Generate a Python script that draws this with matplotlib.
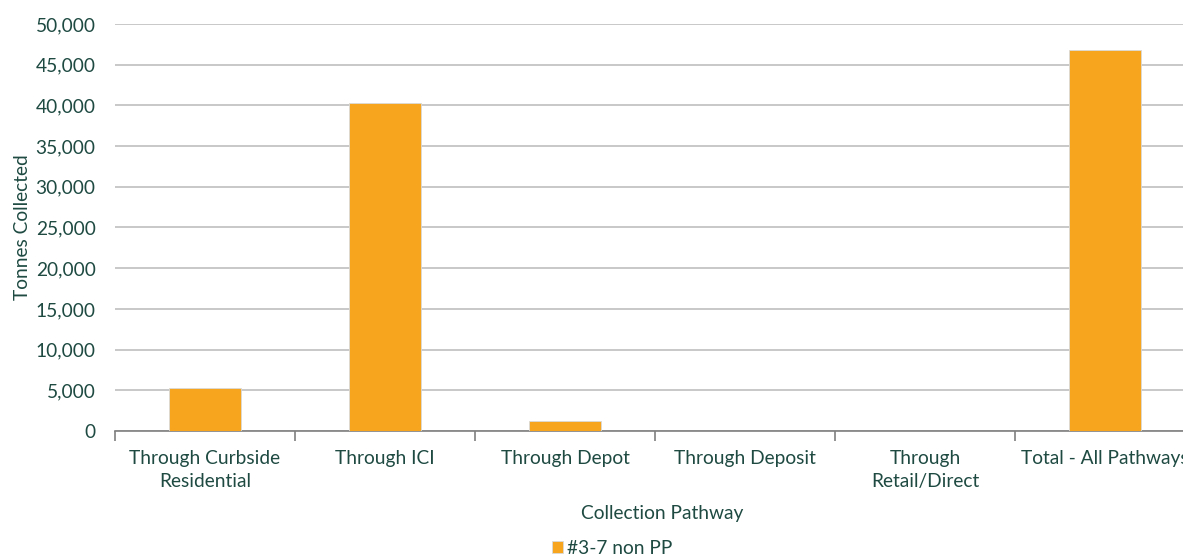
import matplotlib.pyplot as plt
from matplotlib.ticker import FuncFormatter, MultipleLocator

categories = ["Through Curbside\nResidential", "Through ICI", "Through Depot",
              "Through Deposit", "Through\nRetail/Direct", "Total - All Pathways"]
tonnes = [5300, 40300, 1200, 0, 0, 46800]
series_name = "#3-7 non PP"

text_color = "#1E4A42"
bar_color = "#F7A51E"

plt.rcParams['font.family'] = ['Lato', 'DejaVu Sans']
plt.rcParams['font.size'] = 13.8

fig = plt.figure(figsize=(11.83, 5.59), dpi=100)
ax = fig.add_axes([115 / 1183, 128 / 559, 1080 / 1183, 407 / 559])

x = list(range(len(categories)))
ax.bar(x, tonnes, width=0.4, color=bar_color, edgecolor="#D9D9D9", linewidth=0.6,
       label=series_name, zorder=3)

ax.set_xlim(-0.5, len(categories) - 0.5)
ax.set_ylim(0, 50000)
ax.yaxis.set_major_locator(MultipleLocator(5000))
ax.yaxis.set_major_formatter(FuncFormatter(lambda v, _: f"{int(v):,}"))
ax.grid(axis="y", color="#BFBFBF", linewidth=1.2, zorder=0)

for side in ("left", "right", "top"):
    ax.spines[side].set_visible(False)
ax.spines["bottom"].set_color("#7F7F7F")
ax.spines["bottom"].set_linewidth(1.2)

# category labels centred on bars, tick marks on the category boundaries
ax.set_xticks(x)
ax.set_xticklabels(categories, color=text_color, linespacing=1.4)
ax.tick_params(axis="x", which="major", length=0, pad=14)
ax.set_xticks([i - 0.5 for i in range(len(categories) + 1)], minor=True)
ax.tick_params(axis="x", which="minor", length=7, width=1.2, color="#7F7F7F")
ax.tick_params(axis="y", length=0, pad=14, labelcolor=text_color)

ax.set_ylabel("Tonnes Collected", color=text_color)
ax.yaxis.set_label_coords(-0.078, 0.5)
fig.text(662 / 1183, 1 - 513 / 559, "Collection Pathway", color=text_color,
         ha="center", va="center")

leg = fig.legend(loc="center", bbox_to_anchor=(612 / 1183, 1 - 548 / 559), frameon=False,
                 handlelength=0.6, handleheight=0.6, handletextpad=0.2)
for t in leg.get_texts():
    t.set_color(text_color)

fig.savefig("out.png", dpi=100)
